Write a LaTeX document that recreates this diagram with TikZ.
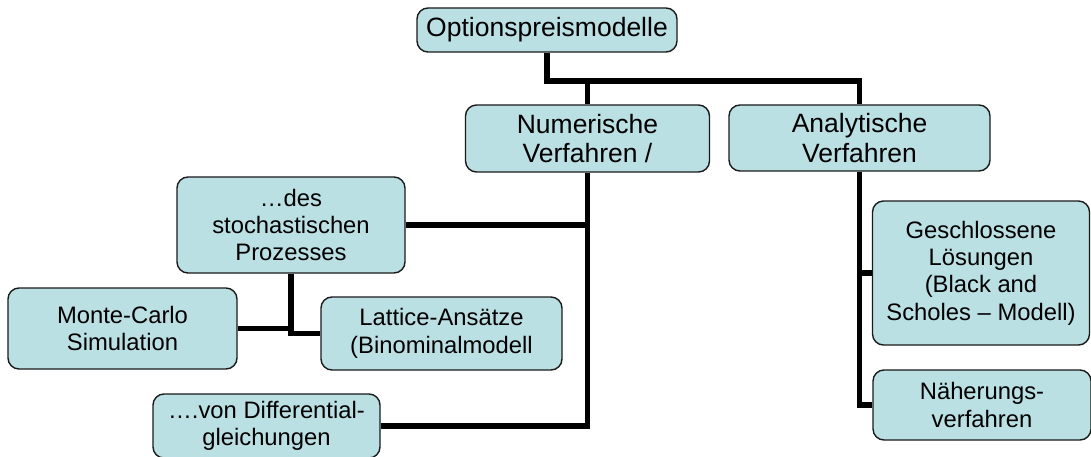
\documentclass[tikz,border=0pt]{standalone}
\usepackage{fontspec}
\setmainfont{Liberation Sans}
\definecolor{boxfill}{HTML}{BBE0E3}
\definecolor{boxline}{HTML}{1A1A1A}
\begin{document}
\begin{tikzpicture}[x=1pt,y=-1pt,
  box/.style={draw=boxline, line width=1.4pt, rounded corners=11pt, fill=boxfill,
    align=center, inner sep=0pt, font=\fontsize{23.8}{27.4}\selectfont},
  big/.style={font=\fontsize{26.5}{29.3}\selectfont},
  conn/.style={line width=5.5pt, line join=miter, draw=black}]
\useasboundingbox (0,0) rectangle (1091,457);

% boxes
\node[box,big,minimum width=260pt,minimum height=44pt] (top) at (547,30) {Optionspreismodelle};
\node[box,big,minimum width=244pt,minimum height=67pt] (num) at (587.5,138.5) {Numerische\\Verfahren /};
\node[box,big,minimum width=261pt,minimum height=66pt] (ana) at (859.5,138) {Analytische\\Verfahren};
\node[box,minimum width=228pt,minimum height=96pt] (sto) at (291,225) {…des\\stochastischen\\Prozesses};
\node[box,minimum width=229pt,minimum height=81pt] (mc) at (122.5,328.5) {Monte-Carlo\\Simulation};
\node[box,minimum width=241pt,minimum height=73pt] (lat) at (441.5,333.5) {Lattice-Ansätze\\(Binominalmodell};
\node[box,minimum width=227pt,minimum height=64pt] (dif) at (266.5,426) {….von Differential-\\gleichungen};
\node[box,minimum width=217pt,minimum height=144pt] (ges) at (981,273) {Geschlossene\\Lösungen\\(Black and\\Scholes – Modell)};
\node[box,minimum width=218pt,minimum height=70pt] (nah) at (982,405) {Näherungs-\\verfahren};

% bus below the root
\coordinate (bus) at (547,81);
\draw[conn] (top.south) |- (ana.north |- bus) -- (ana.north);
\draw[conn] (num.north |- bus) -- (num.north);

% numerical branch
\draw[conn] (num.south) |- (dif.east);
\draw[conn] (sto.east) -- (num.south |- sto.east);
\draw[conn] (sto.south) |- (lat.west);
\draw[conn] (mc.east) -- (sto.south |- mc.east);

% analytical branch
\draw[conn] (ana.south) |- (nah.west);
\draw[conn] (ges.west) -- (ana.south |- ges.west);
\end{tikzpicture}
\end{document}
